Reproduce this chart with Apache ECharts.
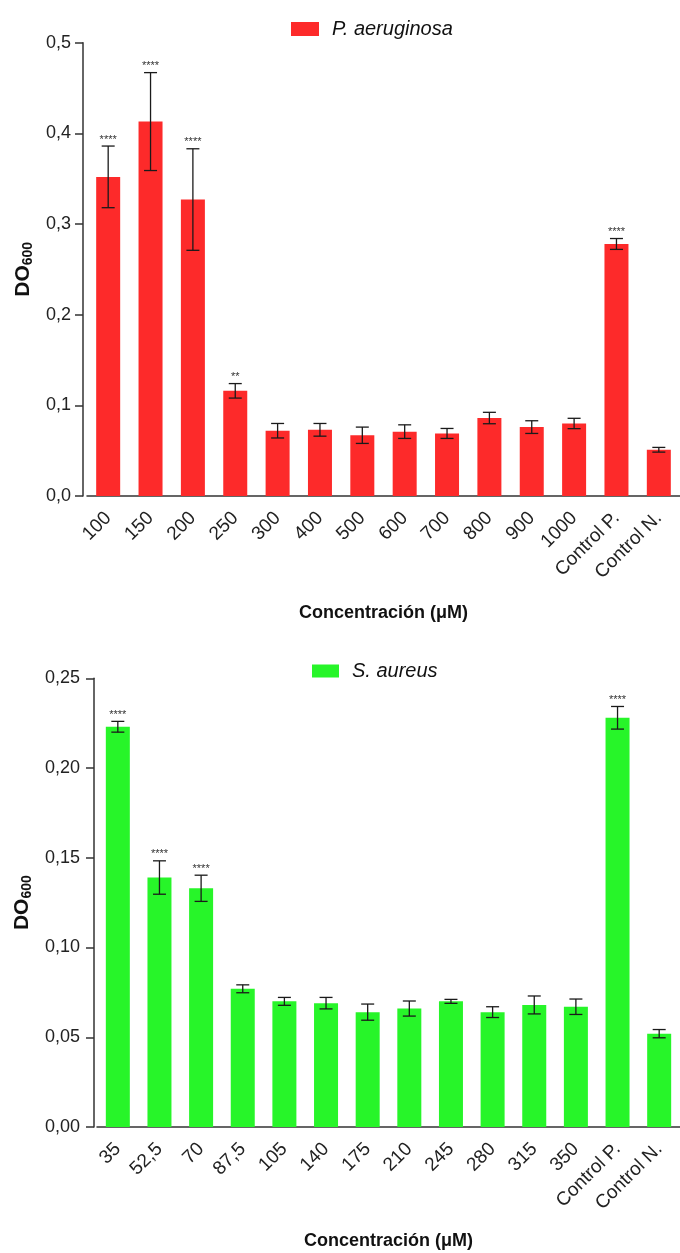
<!DOCTYPE html>
<html>
<head>
<meta charset="utf-8">
<script src="https://cdn.jsdelivr.net/npm/echarts@6/dist/echarts.min.js"></script>
<style>
html,body{margin:0;padding:0;background:#fff;}
#c{width:680px;height:1253px;}
</style>
</head>
<body>
<div id="c"></div>
<script>
// ---- Data: P. aeruginosa ----
const catsP = ['100','150','200','250','300','400','500','600','700','800','900','1000','Control P.','Control N.'];
const meanP = [0.352,0.413,0.327,0.116,0.072,0.073,0.067,0.071,0.069,0.086,0.076,0.080,0.278,0.051];
const sdP   = [0.034,0.054,0.056,0.008,0.008,0.007,0.009,0.0075,0.0055,0.0063,0.007,0.0057,0.006,0.0026];
const sigP  = ['****','****','****','**','','','','','','','','','****',''];
const ticksP = [0,0.1,0.2,0.3,0.4,0.5];

// ---- Data: S. aureus ----
const catsS = ['35','52,5','70','87,5','105','140','175','210','245','280','315','350','Control P.','Control N.'];
const meanS = [0.223,0.139,0.133,0.077,0.070,0.069,0.064,0.066,0.070,0.064,0.068,0.067,0.228,0.052];
const sdS   = [0.003,0.0093,0.0073,0.0022,0.0022,0.0032,0.0045,0.0042,0.0011,0.003,0.005,0.0043,0.0063,0.0023];
const sigS  = ['****','****','****','','','','','','','','','','****',''];
const ticksS = [0,0.05,0.10,0.15,0.20,0.25];

const FONT = "'Liberation Sans', Arial, sans-serif";
const AX = '#333';
const RED = '#fd2a2a';
const GREEN = '#27f529';

function errRenderer(sig){
  return function(params, api){
    const x = api.value(0), m = api.value(1), s = api.value(2);
    const top = api.coord([x, m + s]);
    const bot = api.coord([x, m - s]);
    const cw = 6.5;
    const st = {stroke:'#1a1a1a', lineWidth:1.3};
    const children = [
      {type:'line', shape:{x1:top[0], y1:top[1], x2:bot[0], y2:bot[1]}, style:st},
      {type:'line', shape:{x1:top[0]-cw, y1:top[1], x2:top[0]+cw, y2:top[1]}, style:st},
      {type:'line', shape:{x1:bot[0]-cw, y1:bot[1], x2:bot[0]+cw, y2:bot[1]}, style:st}
    ];
    const t = sig[params.dataIndex];
    if (t) {
      children.push({type:'text', style:{text:t, x:top[0], y:top[1]-1, textAlign:'center', textVerticalAlign:'bottom', fontSize:11, fontFamily:FONT, fill:'#333'}});
    }
    return {type:'group', children:children};
  };
}

const yNameStyle = {
  rich:{
    a:{fontSize:21, fontWeight:'bold', fontFamily:FONT, color:'#111', lineHeight:24},
    b:{fontSize:14, fontWeight:'bold', fontFamily:FONT, color:'#111', verticalAlign:'bottom', lineHeight:24, padding:[8,0,0,0]}
  }
};

function xAxisCfg(cats, gi, gap){
  return {
    type:'category', gridIndex:gi, data:cats,
    axisLine:{lineStyle:{color:AX, width:1.5}},
    axisTick:{alignWithLabel:true, length:9, lineStyle:{color:AX, width:1.5}},
    axisLabel:{rotate:45, margin:19, fontSize:19, fontFamily:FONT, color:'#222', interval:0},
    name:'Concentración (μM)', nameLocation:'middle', nameGap:gap,
    nameTextStyle:{fontSize:18, fontWeight:'bold', fontFamily:FONT, color:'#111'}
  };
}
function yAxisCfg(gi, max, interval, dec, offset, margin, gap){
  return {
    type:'value', gridIndex:gi, min:0, max:max, interval:interval, offset:offset,
    splitLine:{show:false},
    axisLine:{show:true, lineStyle:{color:AX, width:1.5}},
    axisTick:{show:true, length:8, lineStyle:{color:AX, width:1.5}},
    axisLabel:{margin:margin, fontSize:18, fontFamily:FONT, color:'#222',
      formatter:function(v){ return v.toFixed(dec).replace('.', ','); }},
    name:'{a|DO}{b|600}', nameLocation:'middle', nameGap:gap, nameRotate:90,
    nameTextStyle:yNameStyle
  };
}

const chart = echarts.init(document.getElementById('c'), null, {renderer:'canvas'});
chart.setOption({
  animation:false,
  backgroundColor:'#fff',
  legend:[
    {data:['P. aeruginosa'], left:286, top:14, itemWidth:28, itemHeight:14, icon:'rect',
     textStyle:{fontSize:20, fontStyle:'italic', fontFamily:FONT, color:'#111', padding:[0,0,0,8]}},
    {data:['S. aureus'], left:307, top:656, itemWidth:27, itemHeight:13, icon:'rect',
     textStyle:{fontSize:20, fontStyle:'italic', fontFamily:FONT, color:'#111', padding:[0,0,0,8]}}
  ],
  grid:[
    {left:87, top:42.7, width:599, height:453.3},
    {left:97, top:678.3, width:592.7, height:448.7}
  ],
  xAxis:[ xAxisCfg(catsP, 0, 108), xAxisCfg(catsS, 1, 105) ],
  yAxis:[ yAxisCfg(0, 0.5, 0.1, 1, 4, 12, 47), yAxisCfg(1, 0.25, 0.05, 2, 3, 14, 58) ],
  series:[
    {name:'P. aeruginosa', type:'bar', xAxisIndex:0, yAxisIndex:0, data:meanP, barWidth:24,
     itemStyle:{color:RED}},
    {type:'custom', xAxisIndex:0, yAxisIndex:0, z:5, clip:false,
     renderItem:errRenderer(sigP),
     data:meanP.map((m,i)=>[i, m, sdP[i]])},
    {name:'S. aureus', type:'bar', xAxisIndex:1, yAxisIndex:1, data:meanS, barWidth:24,
     itemStyle:{color:GREEN}},
    {type:'custom', xAxisIndex:1, yAxisIndex:1, z:5, clip:false,
     renderItem:errRenderer(sigS),
     data:meanS.map((m,i)=>[i, m, sdS[i]])}
  ]
});
</script>
</body>
</html>
